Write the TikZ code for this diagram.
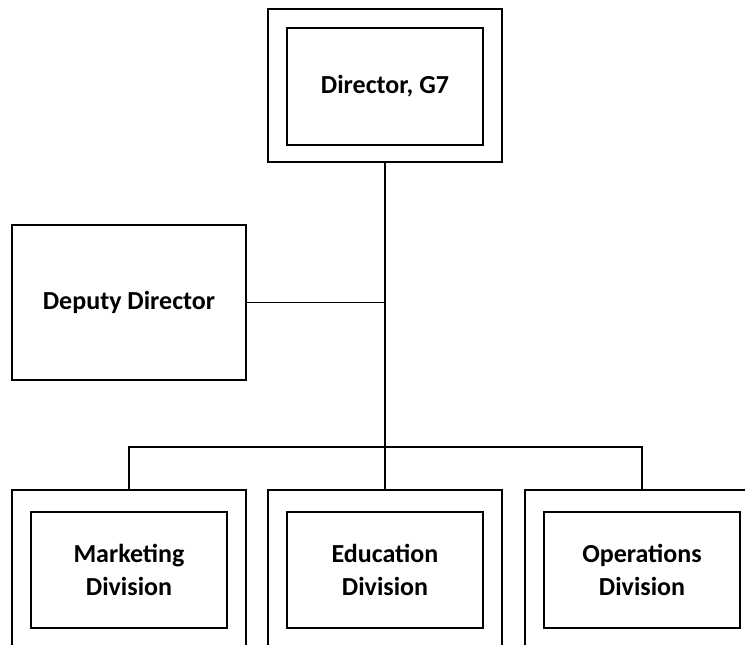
\documentclass[tikz,border=0pt]{standalone}
\usepackage{fontspec}
\setmainfont{Carlito}
\usetikzlibrary{calc}

\begin{document}
\begin{tikzpicture}[x=1pt,y=-1pt,line width=1.2pt]
    \tikzstyle{outer}=[draw=black, rectangle, minimum width=234pt, inner sep=0pt, fill=none]
    \tikzstyle{inner}=[draw=black, rectangle, minimum width=196pt, inner sep=0pt, text=black, align=center, font=\fontsize{26}{33}\selectfont\bfseries]

    \useasboundingbox (0,0) rectangle (745,645);
    \clip (0,0) rectangle (745,645);

    \node[outer, minimum height=153pt] (director) at (385,85.5)  {};
    \node[inner, minimum height=117pt] (dirbox)   at (385,86.5)  {Director, G7};
    \node[inner, minimum width=234pt, minimum height=155pt] (deputy) at (129,302.5) {Deputy Director};

    \node[outer, minimum height=200pt] (marketing)  at (129,590) {};
    \node[outer, minimum height=200pt] (education)  at (385,590) {};
    \node[outer, minimum height=200pt] (operations) at (642,590) {};
    \node[inner, minimum height=116pt] (mkbox) at (129,570) {Marketing\\Division};
    \node[inner, minimum height=116pt] (edbox) at (385,570) {Education\\Division};
    \node[inner, minimum height=116pt] (opbox) at (642,570) {Operations\\Division};

    \coordinate (bus) at (385,447);
    \draw (director.south) -- (bus);
    \draw (deputy.east) -- (deputy.east -| bus);
    \draw (marketing.north) |- (bus) -| (operations.north);
    \draw (bus) -- (education.north);
\end{tikzpicture}
\end{document}
